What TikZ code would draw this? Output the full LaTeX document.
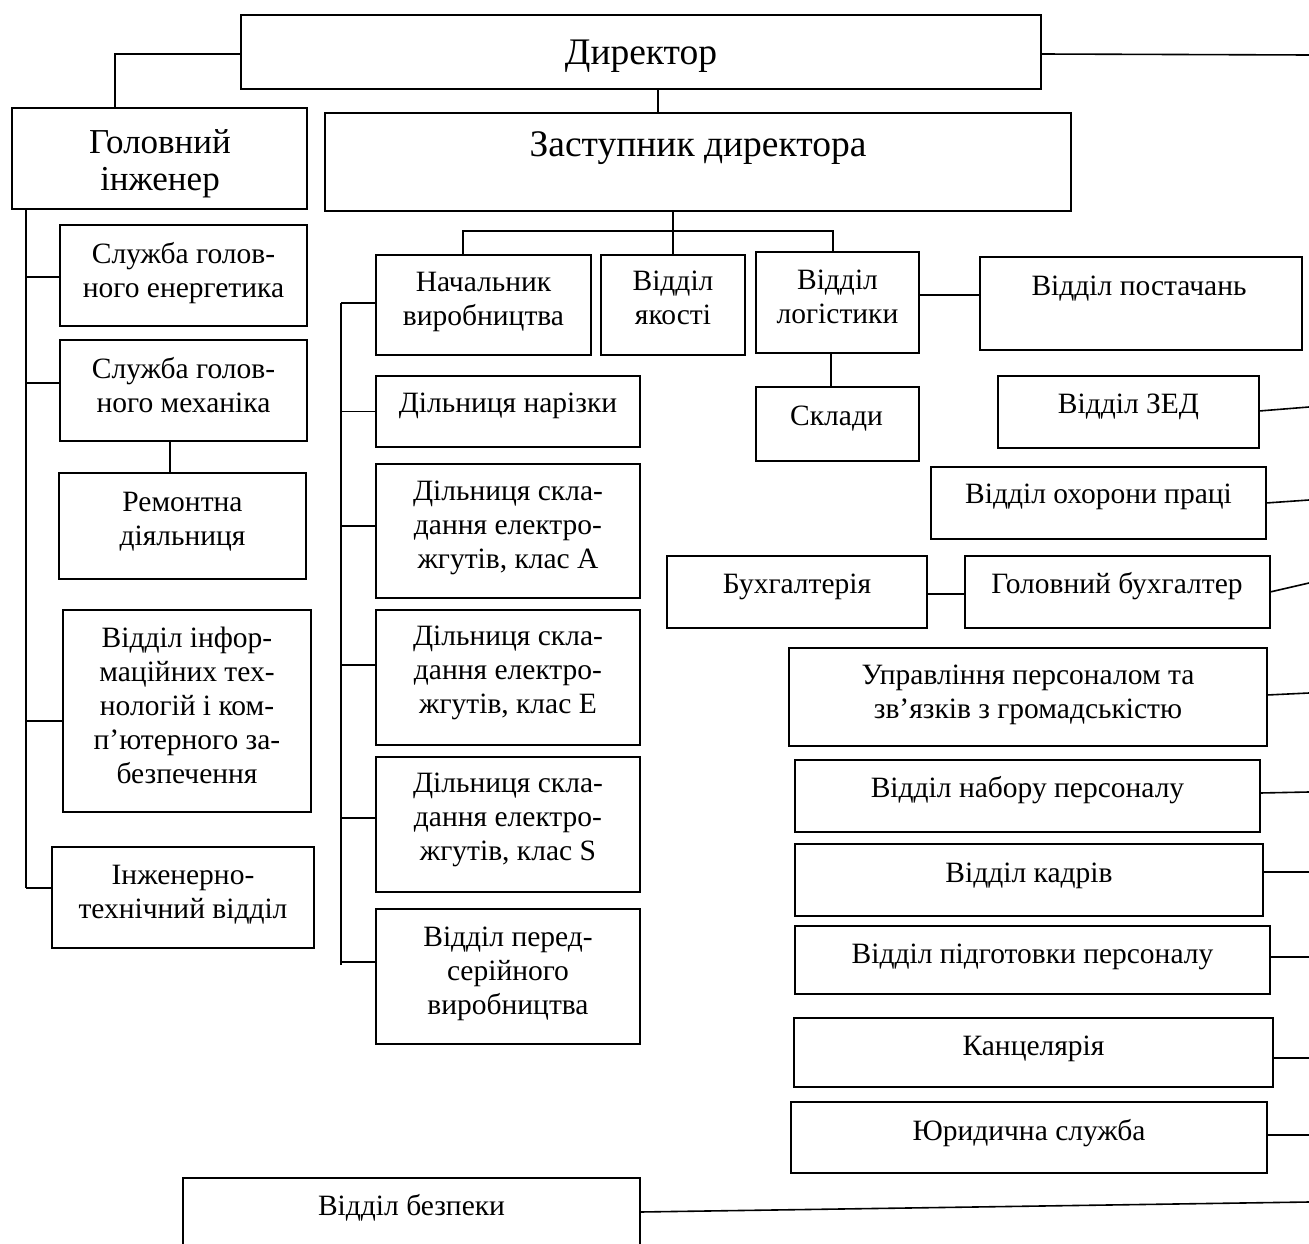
\documentclass[tikz,border=0pt]{standalone}
\usepackage{fontspec}
\setmainfont{Liberation Serif}
\tikzset{
  bx/.style={draw, line width=2.3pt, inner sep=0pt, outer sep=0pt},
  lb/.style={align=center, inner sep=0pt, font=\fontsize{29.5}{34}\selectfont},
  lbbig/.style={align=center, inner sep=0pt, font=\fontsize{37.5}{42}\selectfont},
  lbmid/.style={align=center, inner sep=0pt, font=\fontsize{35}{37}\selectfont},
  cn/.style={line width=1.6pt},
}
\newcommand\bx[5]{\node[bx, minimum width={(#4-#2)*1pt}, minimum height={(#5-#3)*1pt}] (#1) at ({(#2+#4)/2},{(#3+#5)/2}) {};}
\begin{document}
\begin{tikzpicture}[x=1pt, y=-1pt]
\useasboundingbox (0,0) rectangle (1309,1244);
\clip (0,0) rectangle (1309,1244);
% boxes
\bx{dir}{241}{15}{1041}{89}
\bx{gi}{12}{108}{307}{209}
\bx{zast}{325}{113}{1071}{211}
\bx{sge}{60}{225}{307}{326}
\bx{sgm}{60}{340}{307}{441}
\bx{rem}{59}{473}{306}{579}
\bx{vit}{63}{610}{311}{812}
\bx{itv}{52}{847}{314}{948}
\bx{nach}{376}{255}{591}{355}
\bx{yak}{601}{255}{745}{355}
\bx{log}{756}{252}{919}{353}
\bx{post}{980}{257}{1302}{350}
\bx{skl}{756}{387}{919}{461}
\bx{nar}{376}{376}{640}{447}
\bx{ka}{376}{464}{640}{598}
\bx{ke}{376}{610}{640}{745}
\bx{ks}{376}{757}{640}{892}
\bx{pers}{376}{909}{640}{1044}
\bx{zed}{998}{376}{1259}{448}
\bx{ohp}{931}{467}{1266}{539}
\bx{buh}{667}{556}{927}{628}
\bx{gbuh}{965}{556}{1270}{628}
\bx{upr}{789}{648}{1267}{746}
\bx{nab}{795}{760}{1260}{832}
\bx{kadr}{795}{844}{1263}{916}
\bx{pidg}{795}{926}{1270}{994}
\bx{kanc}{794}{1018}{1273}{1087}
\bx{yur}{791}{1102}{1267}{1173}
\bx{bez}{183}{1178}{640}{1290}
% texts
\node[lbbig, anchor=base] (dir-t) at (641,65) {Директор};
\node[lbmid] (gi-t) at (160,164) {Головний\\інженер};
\node[lbbig, anchor=base] (zast-t) at (698,157) {Заступник директора};
\node[lb] (sge-t) at (183.5,273) {Служба голов-\\ного енергетика};
\node[lb] (sgm-t) at (183.5,385) {Служба голов-\\ного механіка};
\node[lb] (rem-t) at (182.5,521.5) {Ремонтна\\діяльниця};
\node[lb] (vit-t) at (187,705) {Відділ інфор-\\маційних тех-\\нологій і ком-\\п’ютерного за-\\безпечення};
\node[lb] (itv-t) at (183,894.5) {Інженерно-\\технічний відділ};
\node[lb] (nach-t) at (483.5,301.5) {Начальник\\виробництва};
\node[lb] (yak-t) at (673,297.5) {Відділ\\якості};
\node[lb] (log-t) at (837.5,296.5) {Відділ\\логістики};
\node[lb, anchor=base] (post-t) at (1139,295) {Відділ постачань};
\node[lb, anchor=base] (skl-t) at (836.5,425) {Склади};
\node[lb, anchor=base] (nar-t) at (508,412) {Дільниця нарізки};
\node[lb] (ka-t) at (508,527.5) {Дільниця скла-\\дання електро-\\жгутів, клас А};
\node[lb] (ke-t) at (508,672.5) {Дільниця скла-\\дання електро-\\жгутів, клас Е};
\node[lb] (ks-t) at (508,819.5) {Дільниця скла-\\дання електро-\\жгутів, клас S};
\node[lb] (pers-t) at (508,974) {Відділ перед-\\серійного\\виробництва};
\node[lb, anchor=base] (zed-t) at (1128.5,413) {Відділ ЗЕД};
\node[lb, anchor=base] (ohp-t) at (1098.5,503) {Відділ охорони праці};
\node[lb, anchor=base] (buh-t) at (797,593) {Бухгалтерія};
\node[lb, anchor=base] (gbuh-t) at (1117,593) {Головний бухгалтер};
\node[lb] (upr-t) at (1028,694.5) {Управління персоналом та\\зв’язків з громадськістю};
\node[lb, anchor=base] (nab-t) at (1027.5,797) {Відділ набору персоналу};
\node[lb, anchor=base] (kadr-t) at (1029,882) {Відділ кадрів};
\node[lb, anchor=base] (pidg-t) at (1032.5,963) {Відділ підготовки персоналу};
\node[lb, anchor=base] (kanc-t) at (1033.5,1055) {Канцелярія};
\node[lb, anchor=base] (yur-t) at (1029,1140) {Юридична служба};
\node[lb, anchor=base] (bez-t) at (411.5,1215) {Відділ безпеки};
% connectors: top
\draw[cn] ([yshift=-2]dir.west) -| ([xshift=-44.5]gi.north);
\draw[cn] ([xshift=17]dir.south) -- ([xshift=-40]zast.north);
% left trunk (chief engineer)
\coordinate (gt) at ([xshift=-133.5]gi.south);
\coordinate (b1) at ([yshift=-1.5]sge.west);
\coordinate (b2) at ([yshift=7.5]sgm.west);
\coordinate (b3) at ([yshift=-10]vit.west);
\coordinate (b4) at ([yshift=9.5]itv.west);
\draw[cn] (gt) -- (b4 -| gt);
\draw[cn] (b1 -| gt) -- (b1);
\draw[cn] (b2 -| gt) -- (b2);
\draw[cn] (b3 -| gt) -- (b3);
\draw[cn] (b4 -| gt) -- (b4);
\coordinate (ms) at ([xshift=-13.5]sgm.south);
\draw[cn] (ms) -- (ms |- rem.north);
% deputy bus
\coordinate (zs) at (yak.north |- zast.south);
\draw[cn] (zs) -- (yak.north);
\coordinate (nn) at ([xshift=-20.5]nach.north);
\coordinate (busL) at ([xshift=-20.5,yshift=24]nach.north);
\coordinate (busR) at ([xshift=-4.5,yshift=21]log.north);
\coordinate (ln) at ([xshift=-4.5]log.north);
\draw[cn] (nn) -- (busL) -- (busR) -- (ln);
% production trunk
\coordinate (p0) at ([xshift=-35,yshift=2]nach.west);
\coordinate (p1) at ([yshift=2]nach.west);
\coordinate (p2) at (nar.west);
\coordinate (p3) at ([yshift=5]ka.west);
\coordinate (p4) at ([yshift=12.5]ke.west);
\coordinate (p5) at ([yshift=6.5]ks.west);
\coordinate (p6) at ([yshift=14.5]pers.west);
\draw[cn] (p0) -- ([yshift=-3]p6 -| p0);
\draw[cn] (p0) -- (p1);
\draw[cn] (p2 -| p0) -- (p2);
\draw[cn] (p3 -| p0) -- (p3);
\draw[cn] (p4 -| p0) -- (p4);
\draw[cn] (p5 -| p0) -- (p5);
\draw[cn] (p6 -| p0) -- (p6);
% logistics
\coordinate (ls) at ([xshift=-6.5]log.south);
\draw[cn] (ls) -- (ls |- skl.north);
\coordinate (lp) at ([yshift=7.5]log.east);
\draw[cn] (lp) -- (lp -| post.west);
\coordinate (bg) at ([yshift=-2]buh.east);
\draw[cn] (bg) -- (bg -| gbuh.west);
% right edge lines
\coordinate (r0) at (1309,55);
\coordinate (r1) at (1309,407);
\coordinate (r2) at (1309,500);
\coordinate (r3) at (1309,583);
\coordinate (r4) at (1309,693);
\coordinate (r5) at (1309,792);
\coordinate (r6) at (1309,872);
\coordinate (r7) at (1309,957);
\coordinate (r8) at (1309,1058);
\coordinate (r9) at (1309,1135);
\coordinate (r10) at (1309,1202);
\draw[cn] ([yshift=-2]dir.east) -- (r0);
\draw[cn] ([yshift=1]zed.east) -- (r1);
\draw[cn] (ohp.east) -- (r2);
\draw[cn] (gbuh.east) -- (r3);
\draw[cn] ([yshift=2]upr.east) -- (r4);
\draw[cn] ([yshift=3]nab.east) -- (r5);
\draw[cn] ([yshift=8]kadr.east) -- (r6);
\draw[cn] ([yshift=3]pidg.east) -- (r7);
\draw[cn] ([yshift=-5.5]kanc.east) -- (r8);
\draw[cn] ([yshift=2.5]yur.east) -- (r9);
\draw[cn] ([yshift=-1]bez.north east |- 0,1211) -- (r10);
\end{tikzpicture}
\end{document}
